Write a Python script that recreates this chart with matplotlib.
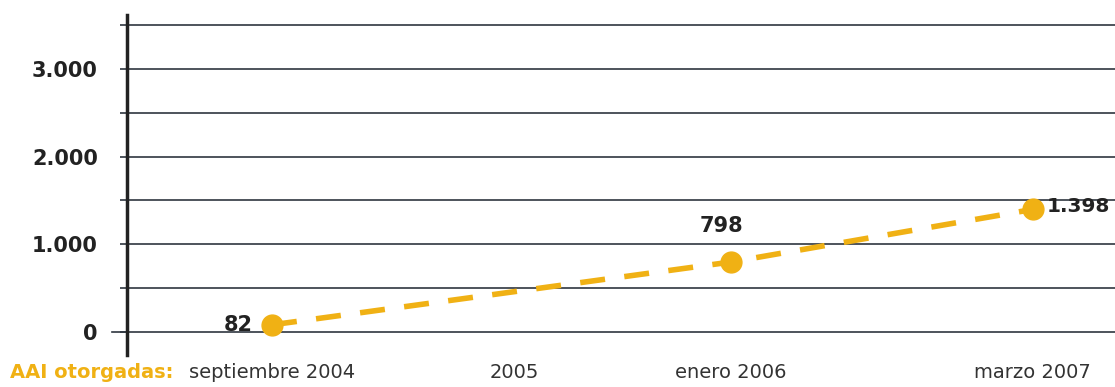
import matplotlib
matplotlib.use("Agg")
import matplotlib.pyplot as plt

plt.rcParams['font.family'] = ['DejaVu Sans']

# datos
fechas = ['septiembre 2004', '2005', 'enero 2006', 'marzo 2007']
pos_fechas = [0.0, 0.527, 1.0, 1.658]
pos_puntos = [0.0, 1.0, 1.658]
aai = [82, 798, 1398]
etiquetas = ['82', '798', '1.398']
yticks = [0, 1000, 2000, 3000]
ytick_labels = ['0', '1.000', '2.000', '3.000']

naranja = '#f0b114'
gris = '#2f3640'

fig = plt.figure(figsize=(11.15, 3.87), dpi=100)
ax = fig.add_axes([127 / 1115, 1 - 355 / 387, 1 - 127 / 1115, 340 / 387])

ax.set_xlim(-0.316, 1.837)
ax.set_ylim(-262, 3614)

for v in range(0, 3501, 500):
    ax.axhline(v, color=gris, lw=1.2, zorder=1)
# linea del cero un poco mas larga
ax.plot([-0.015, 0], [0, 0], color=gris, lw=1.2, clip_on=False, transform=ax.get_yaxis_transform())

ax.plot(pos_puntos, aai, color=naranja, lw=4, dashes=(4.5, 3.5), zorder=2)
ax.plot(pos_puntos, aai, 'o', color=naranja, ms=15, zorder=3)

ax.annotate(etiquetas[0], (pos_puntos[0], aai[0]), xytext=(-14, 0), textcoords='offset points',
            ha='right', va='center', fontsize=15, fontweight='bold', color='#222222')
ax.annotate(etiquetas[1], (pos_puntos[1], aai[1]), xytext=(-7, 26), textcoords='offset points',
            ha='center', va='center', fontsize=15, fontweight='bold', color='#222222')
ax.annotate(etiquetas[2], (pos_puntos[2], aai[2]), xytext=(10, 2), textcoords='offset points',
            ha='left', va='center', fontsize=14.5, fontweight='bold', color='#222222')

ax.set_yticks(yticks)
ax.set_yticklabels(ytick_labels, fontsize=15, fontweight='bold', color='#222222')
ax.set_yticks(range(500, 3501, 1000), minor=True)
ax.tick_params(axis='y', which='both', length=5, width=1.2, color=gris, pad=16)

ax.set_xticks(pos_fechas)
ax.set_xticklabels(fechas, fontsize=14, color='#333333')
ax.tick_params(axis='x', length=0, pad=6)

for s in ['top', 'right', 'bottom']:
    ax.spines[s].set_visible(False)
ax.spines['left'].set_linewidth(2.5)
ax.spines['left'].set_color('#222222')

fig.text(10 / 1115, 1 - 373 / 387, 'AAI otorgadas:', color=naranja, fontsize=14,
         fontweight='bold', ha='left', va='center')

fig.savefig('out.png', dpi=100)
